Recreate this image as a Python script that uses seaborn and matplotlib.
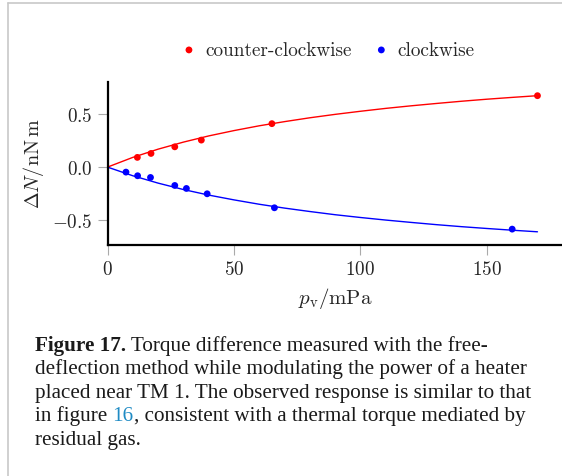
import numpy as np
import pandas as pd
import matplotlib
matplotlib.use("Agg")
import matplotlib.pyplot as plt
import seaborn as sns

# measured points
p_ccw = [11.8, 17.2, 26.6, 37.1, 65.0, 170.0]
dn_ccw = [0.091, 0.128, 0.190, 0.253, 0.407, 0.669]
p_cw = [7.3, 11.9, 17.0, 26.6, 31.2, 39.4, 66.0, 160.0]
dn_cw = [-0.047, -0.081, -0.097, -0.172, -0.200, -0.250, -0.381, -0.581]

# fitted curves
p_fit = [0, 10, 20, 30, 40, 50, 60, 70, 80, 90, 100, 110, 120, 130, 140, 150, 160, 170]
fit_ccw = [0.0, 0.091, 0.168, 0.234, 0.292, 0.342, 0.387, 0.426, 0.462, 0.494,
           0.523, 0.550, 0.574, 0.596, 0.617, 0.636, 0.653, 0.669]
fit_cw = [0.0, -0.081, -0.150, -0.210, -0.262, -0.307, -0.348, -0.384, -0.416, -0.446,
          -0.472, -0.496, -0.518, -0.539, -0.558, -0.575, -0.591, -0.606]

xticks = [0, 50, 100, 150]
yticks = [-0.5, 0.0, 0.5]

sns.set_style("white")
plt.rcParams["font.family"] = "cmr10"
plt.rcParams["mathtext.fontset"] = "cm"
plt.rcParams["axes.formatter.use_mathtext"] = True

fig = plt.figure(figsize=(5.62, 4.77), dpi=100)
ax = fig.add_axes([107.5 / 562, 1 - 245.5 / 477, 1 - 107.5 / 562, (245.5 - 82.7) / 477])

df_ccw = pd.DataFrame({"p": p_ccw, "dn": dn_ccw})
df_cw = pd.DataFrame({"p": p_cw, "dn": dn_cw})
df_fit = pd.DataFrame({"p": p_fit, "ccw": fit_ccw, "cw": fit_cw})

sns.lineplot(data=df_fit, x="p", y="ccw", color="#ff0000", lw=1.0, ax=ax)
sns.lineplot(data=df_fit, x="p", y="cw", color="#0000ff", lw=1.0, ax=ax)
sns.scatterplot(data=df_ccw, x="p", y="dn", color="#ff0000", s=24, edgecolor="none",
                ax=ax, label="counter-clockwise", zorder=3)
sns.scatterplot(data=df_cw, x="p", y="dn", color="#0000ff", s=24, edgecolor="none",
                ax=ax, label="clockwise", zorder=3)

ax.set_xlim(0, 179.7)
ax.set_ylim(-0.725, 0.8)
ax.set_xticks(xticks)
ax.set_yticks(yticks)
ax.yaxis.set_major_formatter(matplotlib.ticker.FuncFormatter(
    lambda v, pos: r"$\mathdefault{%s}$" % ("%.1f" % v).replace("-", "\u2212")))
ax.tick_params(axis="both", direction="out", length=7, width=0.8, color="#aaaaaa",
               labelsize=13.8, pad=4, bottom=True, left=True)
for s in ["top", "right"]:
    ax.spines[s].set_visible(False)
for s in ["left", "bottom"]:
    ax.spines[s].set_color("black")
    ax.spines[s].set_linewidth(1.6)

ax.set_xlabel(r"$p_\mathrm{v}/\mathrm{mPa}$", fontsize=15, labelpad=5)
ax.set_ylabel(r"$\Delta N/\mathrm{nN\,m}$", fontsize=14.5, labelpad=4)

ax.legend_.remove()
h, l = ax.get_legend_handles_labels()
fig.legend(h, l, loc="center", bbox_to_anchor=(327 / 562, 1 - 51 / 477), ncol=2,
           frameon=False, fontsize=13.8, handletextpad=0.35, columnspacing=1.05,
           handlelength=1.0, markerscale=1.0)

# thin grey frame around the figure panel
fig.add_artist(plt.Line2D([7.5 / 562, 1], [1 - 3.5 / 477] * 2, color="#c8c8c8", lw=1.2))
fig.add_artist(plt.Line2D([7.5 / 562] * 2, [0, 1 - 3.5 / 477], color="#c8c8c8", lw=1.2))

# caption
cap_font = "Liberation Serif"
cap_size = 15.2
cap_lines = [
    [("Figure 17.", "bold", "#1a1a1a"), (" Torque difference measured with the free-", "normal", "#1a1a1a")],
    [("deflection method while modulating the power of a heater", "normal", "#1a1a1a")],
    [("placed near TM 1. The observed response is similar to that", "normal", "#1a1a1a")],
    [("in figure ", "normal", "#1a1a1a"), ("16", "normal", "#1f8bc4"),
     (", consistent with a thermal torque mediated by", "normal", "#1a1a1a")],
    [("residual gas.", "normal", "#1a1a1a")],
]
baselines = [351, 374.5, 398, 421.5, 445]
fig.canvas.draw()
renderer = fig.canvas.get_renderer()
for parts, yb in zip(cap_lines, baselines):
    x = 35.0
    for txt, wt, col in parts:
        t = fig.text(x / 562, 1 - yb / 477, txt, family=cap_font, fontsize=cap_size,
                     weight=wt, color=col, ha="left", va="baseline")
        bb = t.get_window_extent(renderer)
        x += bb.width

fig.savefig("out.png", dpi=100)
